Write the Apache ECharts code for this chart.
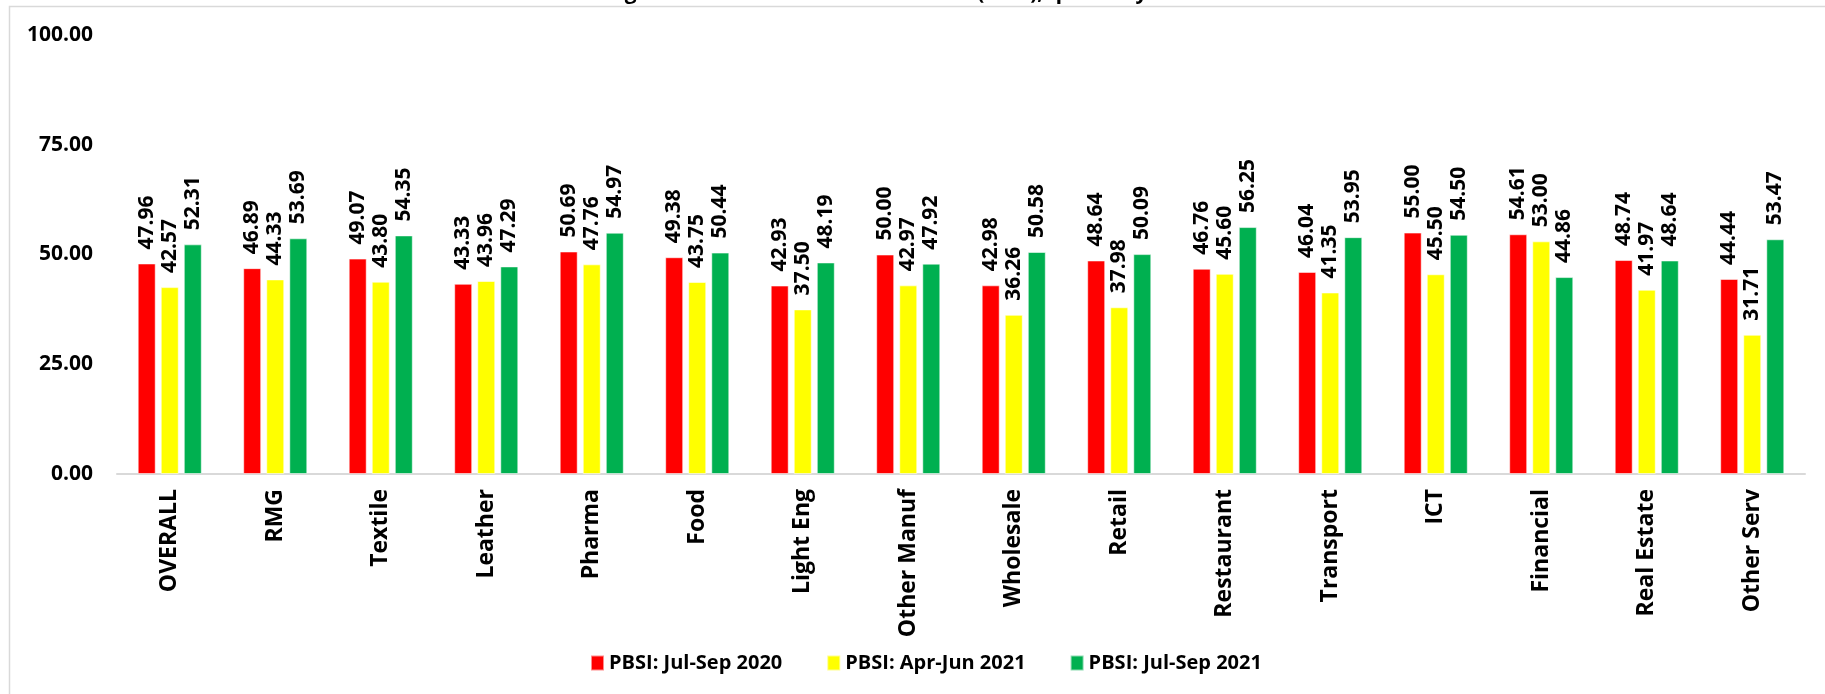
<!DOCTYPE html>
<html>
<head>
<meta charset="utf-8">
<script src="https://cdn.jsdelivr.net/npm/echarts@6/dist/echarts.min.js"></script>
<style>
  html, body { margin: 0; padding: 0; background: #ffffff; }
  #chart { width: 1825px; height: 694px; }
</style>
</head>
<body>
<div id="chart"></div>
<script>
// Sector categories
const categories = ['OVERALL', 'RMG', 'Textile', 'Leather', 'Pharma', 'Food', 'Light Eng',
  'Other Manuf', 'Wholesale', 'Retail', 'Restaurant', 'Transport', 'ICT', 'Financial',
  'Real Estate', 'Other Serv'];

// Series names
const seriesNames = ['PBSI: Jul-Sep 2020', 'PBSI: Apr-Jun 2021', 'PBSI: Jul-Sep 2021'];

// Index values per sector
const julSep2020 = [47.96, 46.89, 49.07, 43.33, 50.69, 49.38, 42.93, 50.00, 42.98, 48.64, 46.76, 46.04, 55.00, 54.61, 48.74, 44.44];
const aprJun2021 = [42.57, 44.33, 43.80, 43.96, 47.76, 43.75, 37.50, 42.97, 36.26, 37.98, 45.60, 41.35, 45.50, 53.00, 41.97, 31.71];
const julSep2021 = [52.31, 53.69, 54.35, 47.29, 54.97, 50.44, 48.19, 47.92, 50.58, 50.09, 56.25, 53.95, 54.50, 44.86, 48.64, 53.47];

// Value axis ticks
const yTicks = [0, 25, 50, 75, 100];

const titleText = 'Figure 1: Business Sentiment Index (PBSI), quarterly sector';

const colors = ['#FF0000', '#FFFF00', '#00B050'];
const seriesData = [julSep2020, aprJun2021, julSep2021];

const chart = echarts.init(document.getElementById('chart'), null, { renderer: 'canvas' });

const barSeries = seriesData.map((data, i) => ({
  name: seriesNames[i],
  type: 'bar',
  data: data,
  barWidth: 18,
  barGap: '28%',
  itemStyle: { color: colors[i], borderColor: 'rgba(255,255,255,0.55)', borderWidth: 1 },
  label: {
    show: true,
    position: 'top',
    rotate: 90,
    align: 'left',
    verticalAlign: 'middle',
    distance: 14,
    formatter: p => p.value.toFixed(2),
    fontFamily: 'Open Sans',
    fontWeight: 'bold',
    fontSize: 21,
    color: '#000000'
  }
}));

chart.setOption({
  animation: false,
  backgroundColor: '#ffffff',
  title: {
    text: titleText,
    left: 'center',
    top: -22,
    textStyle: { fontFamily: 'Open Sans', fontWeight: 'bold', fontSize: 21, color: '#000000' }
  },
  graphic: [{
    type: 'rect',
    silent: true,
    shape: { x: 9.5, y: 6.5, width: 1840, height: 720 },
    style: { fill: 'none', stroke: '#d9d9d9', lineWidth: 1.5 }
  }],
  legend: {
    data: seriesNames,
    left: 585,
    top: 648,
    itemWidth: 13,
    itemHeight: 15,
    itemGap: 44,
    icon: 'rect',
    textStyle: { fontFamily: 'Open Sans', fontWeight: 'bold', fontSize: 20, color: '#000000' }
  },
  grid: { left: 117, right: 20, top: 35, bottom: 220, containLabel: false },
  xAxis: {
    type: 'category',
    data: categories,
    axisLine: { show: true, lineStyle: { color: '#d9d9d9', width: 2 } },
    axisTick: { show: false },
    axisLabel: {
      rotate: 90,
      interval: 0,
      margin: 15,
      fontFamily: 'Open Sans',
      fontWeight: 'bold',
      fontSize: 23,
      color: '#000000'
    }
  },
  yAxis: {
    type: 'value',
    min: yTicks[0],
    max: yTicks[yTicks.length - 1],
    interval: yTicks[1] - yTicks[0],
    axisLine: { show: false },
    axisTick: { show: false },
    splitLine: { show: false },
    axisLabel: {
      margin: 24,
      formatter: v => v.toFixed(2),
      fontFamily: 'Open Sans',
      fontWeight: 'bold',
      fontSize: 21,
      color: '#000000'
    }
  },
  series: barSeries
});
</script>
</body>
</html>
